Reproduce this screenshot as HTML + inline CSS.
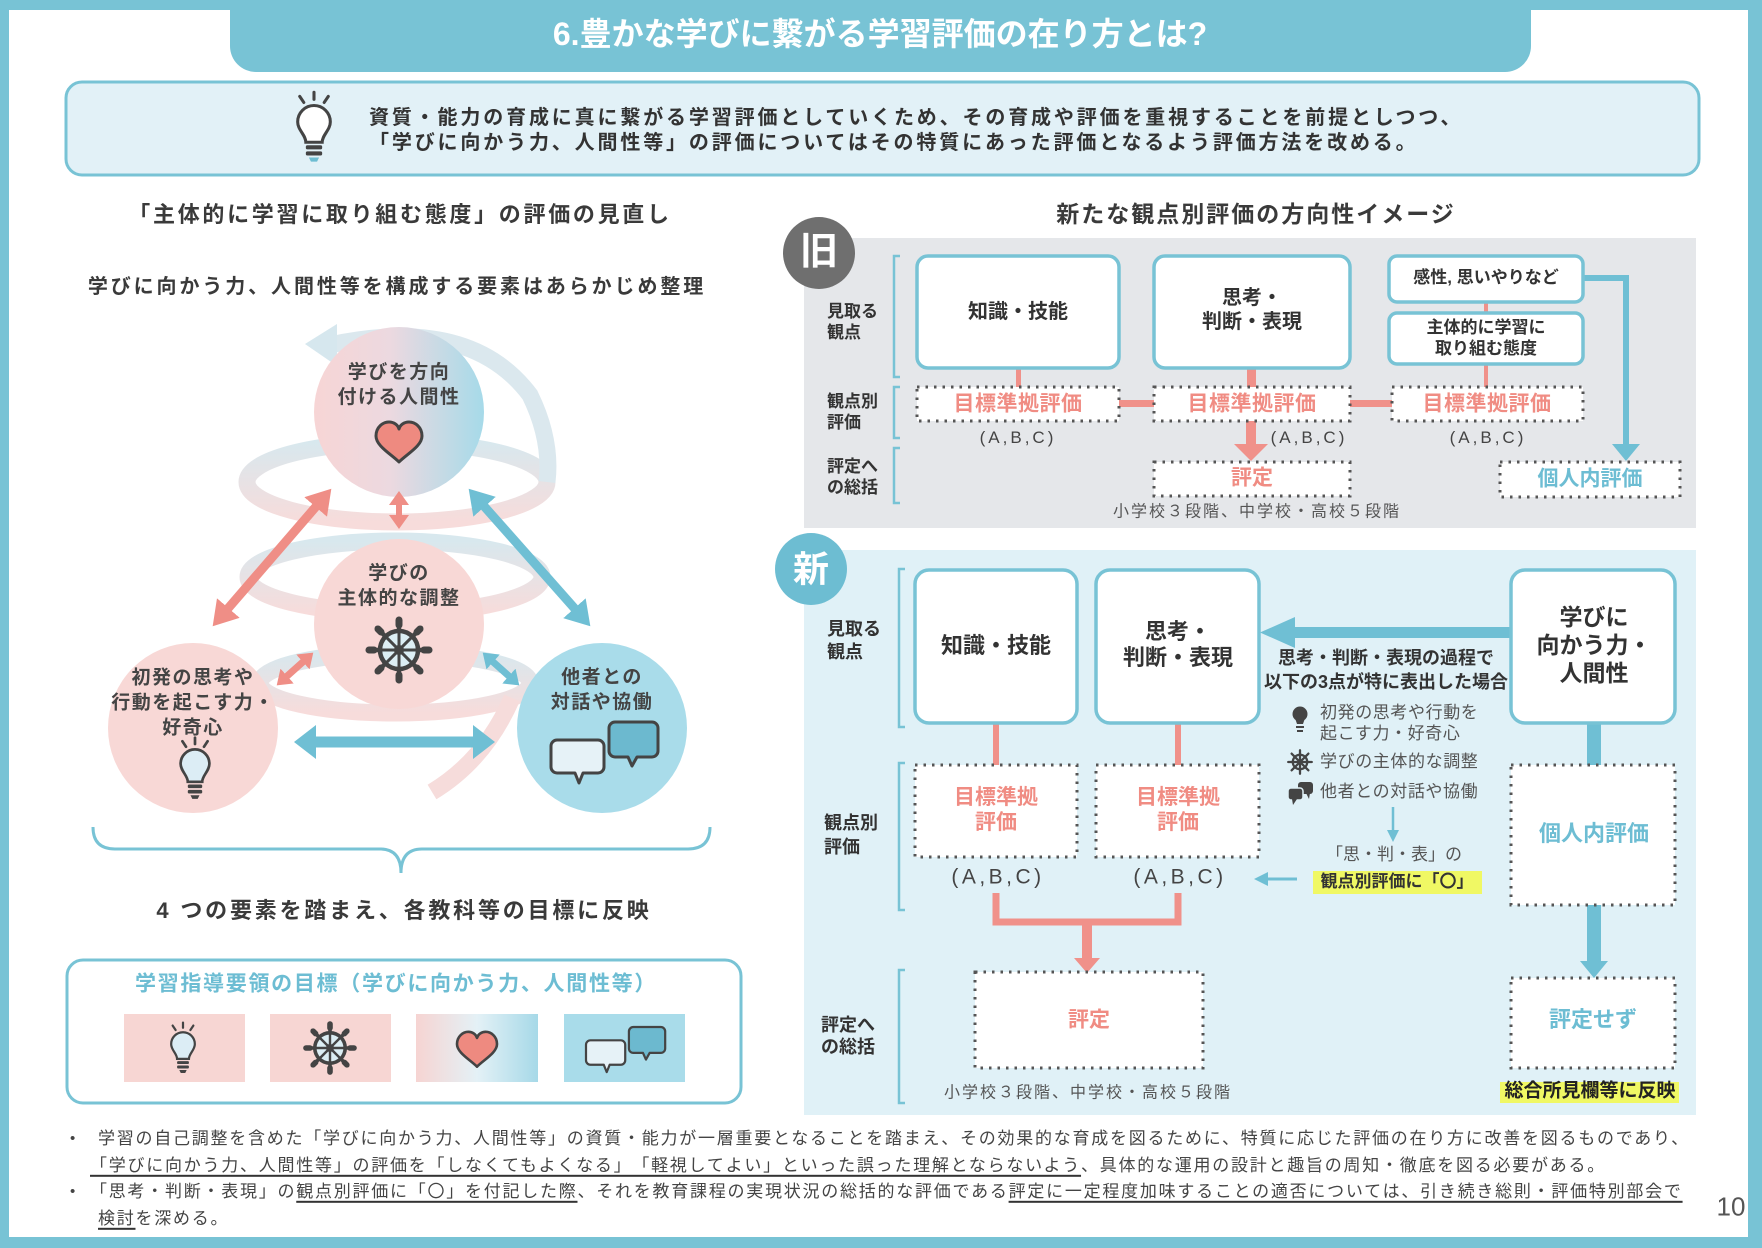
<!DOCTYPE html>
<html><head><meta charset="utf-8">
<style>
*{margin:0;padding:0}
body{width:1762px;height:1248px;position:relative;overflow:hidden;background:#fff;font-family:"Liberation Sans","Noto Sans CJK JP",sans-serif;color:#3a3a3a;text-spacing-trim:space-all}
.t{position:absolute;white-space:nowrap;line-height:1.2;transform:translate(-50%,-50%);text-align:center}
.l{position:absolute;white-space:nowrap;line-height:1.2;transform:translateY(-50%)}
.b{font-weight:700}
.pk{color:#f08c83}
.tl{color:#6dbdd3}
u{text-decoration:underline;text-decoration-thickness:2px;text-underline-offset:4px;text-decoration-color:#333}
</style></head><body>
<svg width="1762" height="1248" viewBox="0 0 1762 1248" style="position:absolute;left:0;top:0">
<defs>
<linearGradient id="gTop" x1="0" y1="0" x2="1" y2="0"><stop offset="0" stop-color="#f7d5d5"/><stop offset="0.45" stop-color="#ecd9e0"/><stop offset="1" stop-color="#a6dae9"/></linearGradient>
<linearGradient id="gSq3" x1="0" y1="0" x2="1" y2="0"><stop offset="0" stop-color="#f6d4d2"/><stop offset="0.5" stop-color="#e4f1f6"/><stop offset="1" stop-color="#a6d9e8"/></linearGradient>
<linearGradient id="gRing" x1="0" y1="0" x2="0" y2="1"><stop offset="0" stop-color="#d8e8ee"/><stop offset="1" stop-color="#f7dcdb"/></linearGradient>
<marker id="mpB" viewBox="0 0 24 30" refX="1" refY="15" markerWidth="24" markerHeight="30" markerUnits="userSpaceOnUse" orient="auto-start-reverse"><path d="M0 0L24 15L0 30Z" fill="#ef8e86"/></marker>
<marker id="mbB" viewBox="0 0 24 30" refX="1" refY="15" markerWidth="24" markerHeight="30" markerUnits="userSpaceOnUse" orient="auto-start-reverse"><path d="M0 0L24 15L0 30Z" fill="#6fbfd4"/></marker>
<marker id="mpS" viewBox="0 0 14 20" refX="1" refY="10" markerWidth="14" markerHeight="20" markerUnits="userSpaceOnUse" orient="auto-start-reverse"><path d="M0 0L14 10L0 20Z" fill="#ef8e86"/></marker>
<marker id="mbS" viewBox="0 0 14 20" refX="1" refY="10" markerWidth="14" markerHeight="20" markerUnits="userSpaceOnUse" orient="auto-start-reverse"><path d="M0 0L14 10L0 20Z" fill="#6fbfd4"/></marker>
<marker id="mbH" viewBox="0 0 22 34" refX="1" refY="17" markerWidth="22" markerHeight="34" markerUnits="userSpaceOnUse" orient="auto-start-reverse"><path d="M0 0L22 17L0 34Z" fill="#6fbfd4"/></marker>
<g id="bulb">
<g stroke="#444" stroke-width="3" stroke-linecap="round" fill="none"><line x1="0" y1="-37" x2="0" y2="-30"/><line x1="-14" y1="-33" x2="-10" y2="-27"/><line x1="14" y1="-33" x2="10" y2="-27"/></g>
<path d="M-8 12C-8 5-16 0-16-8A16 16 0 1 1 16-8C16 0 8 5 8 12Z" fill="#dcedf5" stroke="#444" stroke-width="3"/>
<rect x="-8" y="15" width="16" height="4" rx="1.5" fill="#444"/><rect x="-8" y="21" width="16" height="4" rx="1.5" fill="#444"/><path d="M-5 27H5L3 31H-3Z" fill="#444"/>
</g>
<g id="wheel">
<g stroke="#444" stroke-width="4.5" stroke-linecap="round"><line x1="-31" y1="0" x2="31" y2="0"/><line x1="0" y1="-31" x2="0" y2="31"/><line x1="-22" y1="-22" x2="22" y2="22"/><line x1="-22" y1="22" x2="22" y2="-22"/></g>
<g stroke="#444" stroke-width="7" stroke-linecap="round"><line x1="-30" y1="0" x2="-25" y2="0"/><line x1="30" y1="0" x2="25" y2="0"/><line x1="0" y1="-30" x2="0" y2="-25"/><line x1="0" y1="30" x2="0" y2="25"/><line x1="-21" y1="-21" x2="-18" y2="-18"/><line x1="21" y1="21" x2="18" y2="18"/><line x1="-21" y1="21" x2="-18" y2="18"/><line x1="21" y1="-21" x2="18" y2="-18"/></g>
<circle r="19" fill="#dceef4" stroke="#444" stroke-width="4.5"/>
<g stroke="#444" stroke-width="3"><line x1="-19" y1="0" x2="19" y2="0"/><line x1="0" y1="-19" x2="0" y2="19"/><line x1="-13.4" y1="-13.4" x2="13.4" y2="13.4"/><line x1="-13.4" y1="13.4" x2="13.4" y2="-13.4"/></g>
<circle r="5" fill="#444"/>
</g>
<path id="heart" d="M0 18C-8 10-23 2-23-8C-23-17-16-22-10-22C-5-22-1-19 0-15C1-19 5-22 10-22C16-22 23-17 23-8C23 2 8 10 0 18Z" fill="#ee8a80" stroke="#444" stroke-width="3" stroke-linejoin="round"/>
<g id="bub">
<path d="M64 0H101A6 6 0 0 1 107 6V29A6 6 0 0 1 101 35H86L81 44L77 35H64A6 6 0 0 1 58 29V6A6 6 0 0 1 64 0Z" fill="#6cb9cf" stroke="#444" stroke-width="3" stroke-linejoin="round"/>
<path d="M6 18H47A6 6 0 0 1 53 24V45A6 6 0 0 1 47 51H32L28 61L24 51H6A6 6 0 0 1 0 45V24A6 6 0 0 1 6 18Z" fill="#e6f2f7" stroke="#444" stroke-width="3" stroke-linejoin="round"/>
</g>
</defs>

<!-- frame -->
<rect width="1762" height="1248" fill="#78c3d5"/>
<rect x="9" y="10" width="1739" height="1227" fill="#fff"/>
<path d="M230 0H1531V46A26 26 0 0 1 1505 72H256A26 26 0 0 1 230 46Z" fill="#78c3d5"/>

<!-- banner -->
<rect x="66" y="82" width="1633" height="93" rx="16" fill="#e2f1f7" stroke="#78c3d5" stroke-width="3"/>
<g transform="translate(314 130) scale(1.02)">
<g stroke="#444" stroke-width="3" stroke-linecap="round" fill="none"><line x1="0" y1="-37" x2="0" y2="-30"/><line x1="-14" y1="-33" x2="-10" y2="-27"/><line x1="14" y1="-33" x2="10" y2="-27"/></g>
<path d="M-8 12C-8 5-16 0-16-8A16 16 0 1 1 16-8C16 0 8 5 8 12Z" fill="#fff" stroke="#444" stroke-width="3"/>
<rect x="-8" y="15" width="16" height="4" rx="1.5" fill="#444"/><rect x="-8" y="21" width="16" height="4" rx="1.5" fill="#444"/><path d="M-5 27H5L3 31H-3Z" fill="#6dbdd2"/>
</g>

<!-- helix -->
<g fill="none" stroke-width="17">
<ellipse cx="397" cy="482" rx="150" ry="40" stroke="url(#gRing)"/>
<ellipse cx="395" cy="577" rx="147" ry="36" stroke="url(#gRing)"/>
<ellipse cx="395" cy="683" rx="135" ry="30" stroke="url(#gRing)"/>
<path d="M330 345Q470 315 530 395Q552 440 547 482" stroke="#dbe8ee"/>
<path d="M512 698Q485 760 432 792" stroke="#f6dcdb"/>
</g>
<polygon points="305,344 337,324 337,366" fill="#d6e7ee"/>

<!-- circles -->
<circle cx="399" cy="412" r="85" fill="url(#gTop)"/>
<circle cx="399" cy="624" r="85" fill="#f8d8d6"/>
<circle cx="193" cy="728" r="85" fill="#f8d8d6"/>
<circle cx="602" cy="728" r="85" fill="#a9dcea"/>

<!-- arrows -->
<line x1="316.3" y1="506.2" x2="227.7" y2="608.8" stroke="#ef8e86" stroke-width="9" marker-start="url(#mpB)" marker-end="url(#mpB)"/>
<line x1="483.9" y1="506" x2="575.1" y2="609" stroke="#6fbfd4" stroke-width="9" marker-start="url(#mbB)" marker-end="url(#mbB)"/>
<line x1="399" y1="504" x2="399" y2="516" stroke="#ef8e86" stroke-width="6" marker-start="url(#mpS)" marker-end="url(#mpS)"/>
<line x1="303.6" y1="661.3" x2="286.4" y2="676.7" stroke="#ef8e86" stroke-width="7" marker-start="url(#mpS)" marker-end="url(#mpS)"/>
<line x1="492.4" y1="661.3" x2="509.6" y2="676.7" stroke="#6fbfd4" stroke-width="7" marker-start="url(#mbS)" marker-end="url(#mbS)"/>
<line x1="315" y1="742" x2="474" y2="742" stroke="#6fbfd4" stroke-width="11" marker-start="url(#mbH)" marker-end="url(#mbH)"/>

<!-- icons in circles -->
<use href="#heart" transform="translate(399 444)"/>
<use href="#wheel" transform="translate(399 650)"/>
<use href="#bulb" transform="translate(195 771) scale(0.9)"/>
<use href="#bub" transform="translate(551 722)"/>

<!-- bracket -->
<path d="M93 827Q93 849 115 849H380Q401 849 401 873Q401 849 422 849H688Q710 849 710 827" fill="none" stroke="#78c3d5" stroke-width="3"/>

<!-- bottom box -->
<rect x="67" y="960" width="674" height="143" rx="16" fill="#fff" stroke="#78c3d5" stroke-width="3"/>
<rect x="124" y="1014" width="121" height="68" fill="#f7d6d3"/>
<rect x="270" y="1014" width="121" height="68" fill="#f7d6d3"/>
<rect x="416" y="1014" width="122" height="68" fill="url(#gSq3)"/>
<rect x="564" y="1014" width="121" height="68" fill="#a9dcea"/>
<use href="#bulb" transform="translate(183 1050) scale(0.74)"/>
<use href="#wheel" transform="translate(330 1048) scale(0.8)"/>
<use href="#heart" transform="translate(477 1051) scale(0.87)"/>
<use href="#bub" transform="translate(586 1027) scale(0.74)"/>

<!-- 旧 panel -->
<rect x="804" y="238" width="892" height="290" fill="#e5e7ea"/>
<circle cx="819" cy="253" r="36" fill="#6f6f6f"/>
<g stroke="#78c3d5" stroke-width="2.5" fill="none">
<path d="M900 256H894V377H900"/><path d="M900 387H894V438H900"/><path d="M900 448H894V503H900"/>
</g>
<g fill="#f0918a">
<rect x="1016" y="366" width="5" height="22"/>
<rect x="1247" y="366" width="9" height="22"/>
<rect x="1484" y="300" width="4" height="14"/>
<rect x="1484" y="362" width="4" height="26"/>
<rect x="1119" y="400" width="36" height="7"/>
<rect x="1350" y="400" width="43" height="7"/>
<rect x="1246" y="421" width="10" height="25"/>
<polygon points="1234,444 1268,444 1251,461"/>
</g>
<path d="M1583 278H1626V446" stroke="#6fbfd4" stroke-width="6" fill="none"/>
<polygon points="1612,444 1640,444 1626,461" fill="#6fbfd4"/>
<g fill="#fff" stroke="#78c3d5" stroke-width="3.5">
<rect x="917" y="256" width="202" height="112" rx="11"/>
<rect x="1154" y="256" width="196" height="112" rx="11"/>
<rect x="1389" y="256" width="194" height="46" rx="8"/>
<rect x="1389" y="313" width="194" height="51" rx="8"/>
</g>
<g fill="#fff" stroke="#555" stroke-width="3" stroke-dasharray="2.5 6">
<rect x="917" y="387" width="202" height="34"/>
<rect x="1154" y="387" width="196" height="34"/>
<rect x="1392" y="387" width="191" height="34"/>
<rect x="1154" y="462" width="196" height="34"/>
<rect x="1500" y="462" width="180" height="35"/>
</g>

<!-- 新 panel -->
<rect x="804" y="550" width="892" height="565" fill="#e0f1f7"/>
<circle cx="811" cy="569" r="36" fill="#6dbdd2"/>
<g stroke="#78c3d5" stroke-width="2.5" fill="none">
<path d="M905 569H899V727H905"/><path d="M905 763H899V910H905"/><path d="M905 970H899V1103H905"/>
</g>
<g fill="#f0918a">
<rect x="993" y="721" width="6" height="45"/>
<rect x="1175" y="721" width="6" height="45"/>
<rect x="1082" y="922" width="10" height="38"/>
<polygon points="1074,958 1100,958 1087,973"/>
</g>
<path d="M996 893V922H1178V893" stroke="#f0918a" stroke-width="7" fill="none"/>
<g fill="#6fbfd4">
<rect x="1587" y="721" width="14" height="45"/>
<rect x="1587" y="905" width="14" height="58"/>
<polygon points="1580,961 1608,961 1594,978"/>
<rect x="1292" y="627" width="221" height="11"/>
<polygon points="1260,632.5 1295,617 1295,648"/>
<polygon points="1387,830 1399,830 1393,842"/>
<polygon points="1254,879 1268,872 1268,886"/>
</g>
<line x1="1393" y1="807" x2="1393" y2="832" stroke="#6fbfd4" stroke-width="2.5"/>
<line x1="1266" y1="879" x2="1297" y2="879" stroke="#6fbfd4" stroke-width="3"/>
<g fill="#fff" stroke="#78c3d5" stroke-width="3.5">
<rect x="915" y="570" width="162" height="153" rx="14"/>
<rect x="1096" y="570" width="163" height="153" rx="14"/>
<rect x="1511" y="570" width="164" height="153" rx="14"/>
</g>
<g fill="#fff" stroke="#555" stroke-width="3" stroke-dasharray="2.5 6">
<rect x="915" y="765" width="162" height="92"/>
<rect x="1096" y="765" width="163" height="92"/>
<rect x="1511" y="765" width="164" height="140"/>
<rect x="975" y="972" width="228" height="96"/>
<rect x="1511" y="978" width="164" height="90"/>
</g>
<rect x="1313" y="871" width="169" height="23" fill="#f0f864"/>
<rect x="1500" y="1082" width="179" height="21" fill="#f0f864"/>

<!-- small list icons -->
<circle cx="1300" cy="714" r="7.5" fill="#444"/>
<path d="M1295 718L1297 724H1303L1305 718Z" fill="#444"/>
<rect x="1296" y="726" width="8" height="2" fill="#444"/><rect x="1297" y="730" width="6" height="2" fill="#444"/>
<g transform="translate(1300 762) scale(0.38)">
<g stroke="#444" stroke-width="6" stroke-linecap="round"><line x1="-31" y1="0" x2="31" y2="0"/><line x1="0" y1="-31" x2="0" y2="31"/><line x1="-22" y1="-22" x2="22" y2="22"/><line x1="-22" y1="22" x2="22" y2="-22"/></g>
<circle r="19" fill="none" stroke="#444" stroke-width="6"/>
</g>
<rect x="1298" y="782" width="15" height="12" rx="3" fill="#444"/>
<polygon points="1306,793 1309,799 1310,793" fill="#444"/>
<rect x="1288" y="788" width="15" height="12" rx="3" fill="#444" stroke="#e0f1f7" stroke-width="1.5"/>
<polygon points="1292,799 1293,805 1297,799" fill="#444"/>
</svg>

<!-- title & banner -->
<div class="t b" style="left:880px;top:34px;font-size:32px;color:#fff">6.豊かな学びに繋がる学習評価の在り方とは?</div>
<div class="l b" style="left:369px;top:118px;font-size:20px;letter-spacing:2.85px;color:#333">資質・能力の育成に真に繋がる学習評価としていくため、その育成や評価を重視することを前提としつつ、</div>
<div class="l b" style="left:369px;top:143px;font-size:20px;letter-spacing:2.85px;color:#333">「学びに向かう力、人間性等」の評価についてはその特質にあった評価となるよう評価方法を改める。</div>

<!-- left -->
<div class="t b" style="left:400px;top:215px;font-size:22px;letter-spacing:2.7px">「主体的に学習に取り組む態度」の評価の見直し</div>
<div class="t b" style="left:397px;top:287px;font-size:20px;letter-spacing:2.9px">学びに向かう力、人間性等を構成する要素はあらかじめ整理</div>
<div class="t b" style="left:399px;top:385px;font-size:19px;letter-spacing:1.5px;line-height:25px;color:#444">学びを方向<br>付ける人間性</div>
<div class="t b" style="left:399px;top:586px;font-size:19px;letter-spacing:1.5px;line-height:25px;color:#444">学びの<br>主体的な調整</div>
<div class="t b" style="left:193px;top:703px;font-size:19px;letter-spacing:1.5px;line-height:25px;color:#444">初発の思考や<br>行動を起こす力・<br>好奇心</div>
<div class="t b" style="left:602px;top:690px;font-size:19px;letter-spacing:1.5px;line-height:25px;color:#444">他者との<br>対話や協働</div>
<div class="t b" style="left:404px;top:911px;font-size:22px;letter-spacing:2.8px">4 つの要素を踏まえ、各教科等の目標に反映</div>
<div class="t b tl" style="left:396px;top:984px;font-size:21px;letter-spacing:1.7px">学習指導要領の目標（学びに向かう力、人間性等）</div>

<!-- right heading -->
<div class="t b" style="left:1256px;top:215px;font-size:23px;letter-spacing:2px">新たな観点別評価の方向性イメージ</div>

<!-- 旧 -->
<div class="t b" style="left:819px;top:253px;font-size:38px;color:#fff">旧</div>
<div class="l b" style="left:827px;top:322px;font-size:17px;line-height:21px;color:#333">見取る<br>観点</div>
<div class="l b" style="left:827px;top:412px;font-size:17px;line-height:21px;color:#333">観点別<br>評価</div>
<div class="l b" style="left:827px;top:477px;font-size:17px;line-height:21px;color:#333">評定へ<br>の総括</div>
<div class="t b" style="left:1018px;top:312px;font-size:20px;color:#333">知識・技能</div>
<div class="t b" style="left:1252px;top:310px;font-size:20px;line-height:24px;color:#333">思考・<br>判断・表現</div>
<div class="t b" style="left:1486px;top:278px;font-size:17px;color:#333">感性, 思いやりなど</div>
<div class="t b" style="left:1486px;top:338px;font-size:17px;line-height:21px;color:#333">主体的に学習に<br>取り組む態度</div>
<div class="t b pk" style="left:1018px;top:404px;font-size:21px;letter-spacing:0.5px">目標準拠評価</div>
<div class="t b pk" style="left:1252px;top:404px;font-size:21px;letter-spacing:0.5px">目標準拠評価</div>
<div class="t b pk" style="left:1487px;top:404px;font-size:21px;letter-spacing:0.5px">目標準拠評価</div>
<div class="t" style="left:1018px;top:438px;font-size:17px;letter-spacing:3px;color:#444">(A,B,C)</div>
<div class="t" style="left:1309px;top:438px;font-size:17px;letter-spacing:3px;color:#444">(A,B,C)</div>
<div class="t" style="left:1488px;top:438px;font-size:17px;letter-spacing:3px;color:#444">(A,B,C)</div>
<div class="t b pk" style="left:1252px;top:478px;font-size:21px">評定</div>
<div class="t b tl" style="left:1590px;top:479px;font-size:21px">個人内評価</div>
<div class="t" style="left:1257px;top:512px;font-size:16px;letter-spacing:2px;color:#555">小学校３段階、中学校・高校５段階</div>

<!-- 新 -->
<div class="t b" style="left:811px;top:569px;font-size:36px;color:#fff">新</div>
<div class="l b" style="left:827px;top:641px;font-size:18px;line-height:23px;color:#333">見取る<br>観点</div>
<div class="l b" style="left:824px;top:835px;font-size:18px;line-height:24px;color:#333">観点別<br>評価</div>
<div class="l b" style="left:821px;top:1036px;font-size:18px;line-height:22px;color:#333">評定へ<br>の総括</div>
<div class="t b" style="left:996px;top:646px;font-size:22px;color:#333">知識・技能</div>
<div class="t b" style="left:1178px;top:645px;font-size:22px;line-height:26px;color:#333">思考・<br>判断・表現</div>
<div class="t b" style="left:1594px;top:645px;font-size:23px;line-height:28px;color:#333">学びに<br>向かう力・<br>人間性</div>
<div class="t b" style="left:1386px;top:670px;font-size:18px;line-height:24px;color:#333">思考・判断・表現の過程で<br>以下の3点が特に表出した場合</div>
<div class="l" style="left:1320px;top:723px;font-size:17px;letter-spacing:0.6px;line-height:21px;color:#555">初発の思考や行動を<br>起こす力・好奇心</div>
<div class="l" style="left:1320px;top:762px;font-size:17px;letter-spacing:0.6px;color:#555">学びの主体的な調整</div>
<div class="l" style="left:1320px;top:792px;font-size:17px;letter-spacing:0.6px;color:#555">他者との対話や協働</div>
<div class="t" style="left:1394px;top:855px;font-size:17px;color:#555">「思・判・表」の</div>
<div class="t b" style="left:1397px;top:882px;font-size:17px;color:#333">観点別評価に「〇」</div>
<div class="t b pk" style="left:996px;top:810px;font-size:21px;line-height:25px">目標準拠<br>評価</div>
<div class="t b pk" style="left:1178px;top:810px;font-size:21px;line-height:25px">目標準拠<br>評価</div>
<div class="t b tl" style="left:1594px;top:834px;font-size:22px">個人内評価</div>
<div class="t" style="left:998px;top:877px;font-size:21px;letter-spacing:3.5px;color:#444">(A,B,C)</div>
<div class="t" style="left:1180px;top:877px;font-size:21px;letter-spacing:3.5px;color:#444">(A,B,C)</div>
<div class="t b pk" style="left:1089px;top:1020px;font-size:21px">評定</div>
<div class="t b tl" style="left:1593px;top:1020px;font-size:22px">評定せず</div>
<div class="t" style="left:1088px;top:1093px;font-size:16px;letter-spacing:2px;color:#555">小学校３段階、中学校・高校５段階</div>
<div class="t b" style="left:1590px;top:1092px;font-size:19px;color:#222">総合所見欄等に反映</div>

<!-- footer -->
<div class="l" style="left:70px;top:1139px;font-size:15px;color:#444">•</div>
<div class="l" style="left:70px;top:1192px;font-size:15px;color:#444">•</div>
<div class="l" style="left:98px;top:1139px;font-size:17px;letter-spacing:1.75px;color:#444">学習の自己調整を含めた「学びに向かう力、人間性等」の資質・能力が一層重要となることを踏まえ、その効果的な育成を図るために、特質に応じた評価の在り方に改善を図るものであり、</div>
<div class="l" style="left:90px;top:1166px;font-size:17px;letter-spacing:1.75px;color:#444"><u>「学びに向かう力、人間性等」の評価を「しなくてもよくなる」「軽視してよい」といった誤った理解とならないよう</u>、具体的な運用の設計と趣旨の周知・徹底を図る必要がある。</div>
<div class="l" style="left:90px;top:1192px;font-size:17px;letter-spacing:1.75px;color:#444">「思考・判断・表現」の<u>観点別評価に「〇」を付記した際</u>、それを教育課程の実現状況の総括的な評価である<u>評定に一定程度加味することの適否については、引き続き総則・評価特別部会で</u></div>
<div class="l" style="left:98px;top:1219px;font-size:17px;letter-spacing:1.75px;color:#444"><u>検討</u>を深める。</div>
<div class="t" style="left:1731px;top:1207px;font-size:26px;color:#555">10</div>
</body></html>
